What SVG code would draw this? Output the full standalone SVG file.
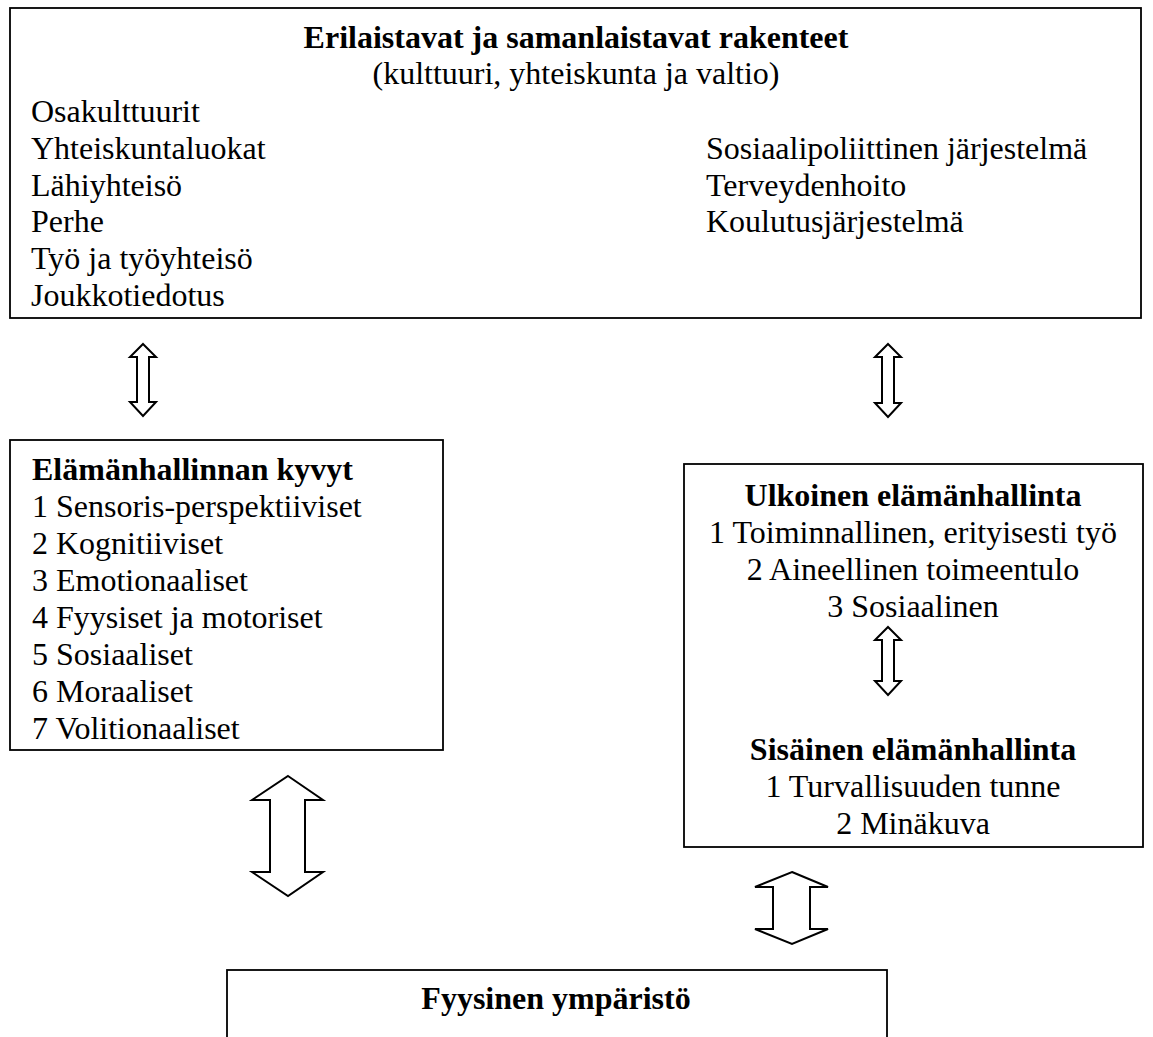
<svg xmlns="http://www.w3.org/2000/svg" width="1153" height="1037" viewBox="0 0 1153 1037">
<style>
text{font-family:"Liberation Serif","Times New Roman",serif;font-size:32px;fill:#000}
.b{font-weight:bold}
.c{text-anchor:middle}
.box{fill:#fff;stroke:#000;stroke-width:1.8}
.arr{fill:#fff;stroke:#000;stroke-width:2;stroke-linejoin:miter}
</style>
<rect width="1153" height="1037" fill="#fff"/>
<g id="structures">
<rect class="box" x="10" y="8" width="1131" height="310"/>
<text class="b c" x="576" y="48">Erilaistavat ja samanlaistavat rakenteet</text>
<text class="c" x="576" y="84">(kulttuuri, yhteiskunta ja valtio)</text>
<text x="31" y="122">Osakulttuurit</text>
<text x="31" y="159">Yhteiskuntaluokat</text>
<text x="31" y="196">Lähiyhteisö</text>
<text x="31" y="232">Perhe</text>
<text x="31" y="269">Työ ja työyhteisö</text>
<text x="31" y="306">Joukkotiedotus</text>
<text x="706" y="159">Sosiaalipoliittinen järjestelmä</text>
<text x="706" y="196">Terveydenhoito</text>
<text x="706" y="232">Koulutusjärjestelmä</text>
</g>
<g id="abilities">
<rect class="box" x="10" y="440" width="433" height="310"/>
<text class="b" x="32" y="480">Elämänhallinnan kyvyt</text>
<text x="32" y="517">1 Sensoris-perspektiiviset</text>
<text x="32" y="554">2 Kognitiiviset</text>
<text x="32" y="591">3 Emotionaaliset</text>
<text x="32" y="628">4 Fyysiset ja motoriset</text>
<text x="32" y="665">5 Sosiaaliset</text>
<text x="32" y="702">6 Moraaliset</text>
<text x="32" y="739">7 Volitionaaliset</text>
</g>
<g id="management">
<rect class="box" x="684" y="464" width="459" height="383"/>
<text class="b c" x="913" y="506">Ulkoinen elämänhallinta</text>
<text class="c" x="913" y="543">1 Toiminnallinen, erityisesti työ</text>
<text class="c" x="913" y="580">2 Aineellinen toimeentulo</text>
<text class="c" x="913" y="617">3 Sosiaalinen</text>
<text class="b c" x="913" y="760">Sisäinen elämänhallinta</text>
<text class="c" x="913" y="797">1 Turvallisuuden tunne</text>
<text class="c" x="913" y="834">2 Minäkuva</text>
</g>
<g id="environment">
<rect class="box" x="227" y="970" width="660" height="90"/>
<text class="b c" x="556" y="1009">Fyysinen ympäristö</text>
</g>
<g id="connectors">
<path class="arr" d="M143 344 L156 357 L149 357 L149 402 L156 402 L143 416 L130 402 L137 402 L137 357 L130 357 Z"/>
<path class="arr" d="M888 344 L901 357 L894 357 L894 403 L901 403 L888 417 L875 403 L882 403 L882 357 L875 357 Z"/>
<path class="arr" d="M888 627 L901 640 L894 640 L894 681 L901 681 L888 695 L875 681 L882 681 L882 640 L875 640 Z"/>
<path class="arr" d="M288 776 L323 800 L305 800 L305 872 L323 872 L288 896 L252 872 L270 872 L270 800 L252 800 Z"/>
<path class="arr" d="M792 872 L828 887 L810 887 L810 929 L828 929 L792 944 L755 929 L773 929 L773 887 L755 887 Z"/>
</g>
</svg>
